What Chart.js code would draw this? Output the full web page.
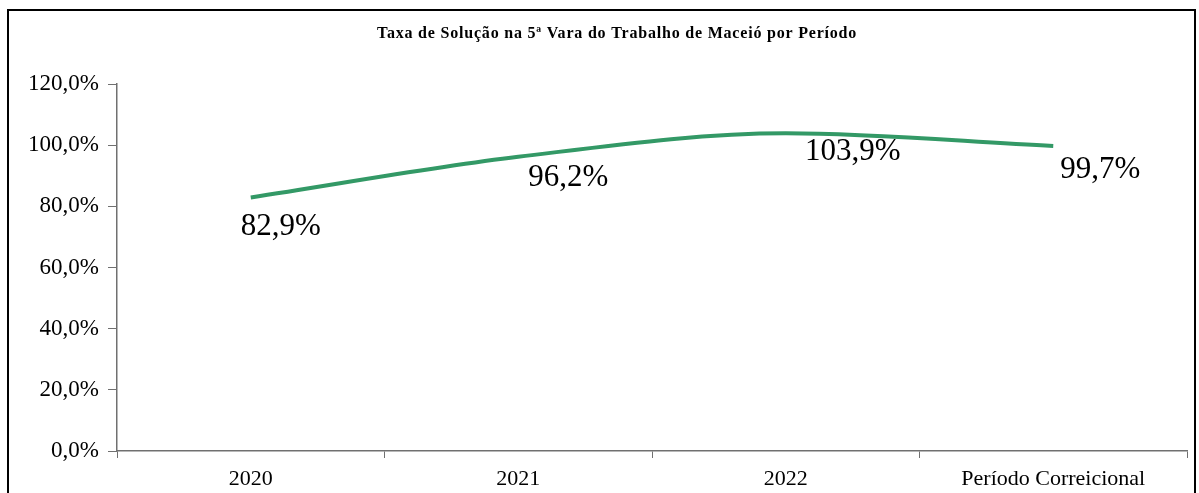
<!DOCTYPE html>
<html>
<head>
<meta charset="utf-8">
<script src="https://cdn.jsdelivr.net/npm/chart.js@4.4.0/dist/chart.umd.min.js"></script>
<style>
  html, body { margin: 0; padding: 0; background: #fff; }
  #wrap { width: 1199px; height: 493px; position: relative; }
</style>
</head>
<body>
<div id="wrap"><canvas id="taxaChart"></canvas></div>
<script>
const chartTitle = 'Taxa de Solução na 5ª Vara do Trabalho de Maceió por Período';
const periodos = ['2020', '2021', '2022', 'Período Correicional'];
const taxaSolucao = [82.9, 96.2, 103.9, 99.7];
const yTicks = [0, 20, 40, 60, 80, 100, 120];

const fmtPct = v => v.toFixed(1).replace('.', ',') + '%';
const serif = '"Liberation Serif", "Times New Roman", serif';

// labels sit below-right of each point, nudged like the original
const labelOffsets = [[30, 29], [50, 21], [67, 19], [47, 24]];

const frameAndLabels = {
  id: 'frameAndLabels',
  afterDraw(chart) {
    const c = chart.ctx;
    c.save();
    c.strokeStyle = '#000';
    c.lineWidth = 2;
    c.strokeRect(8, 10, 1187, 500);

    // title, slightly spaced out like the original
    c.fillStyle = '#000';
    c.font = 'bold 16px ' + serif;
    c.letterSpacing = '0.8px';
    c.textAlign = 'center';
    c.textBaseline = 'middle';
    c.fillText(chartTitle, 617, 34);
    c.letterSpacing = '0px';

    const meta = chart.getDatasetMeta(0);
    c.font = '31px ' + serif;
    meta.data.forEach((pt, i) => {
      const [dx, dy] = labelOffsets[i];
      c.fillText(fmtPct(taxaSolucao[i]), pt.x + dx, pt.y + dy);
    });
    c.restore();
  }
};

const ctx = document.getElementById('taxaChart').getContext('2d');
const taxaChart = new Chart(ctx, {
  type: 'line',
  data: {
    labels: periodos,
    datasets: [{
      label: 'Taxa de Solução',
      data: taxaSolucao,
      borderColor: '#339966',
      borderWidth: 4,
      pointRadius: 0,
      tension: 0.4,
      cubicInterpolationMode: 'monotone',
      fill: false
    }]
  },
  options: {
    responsive: true,
    maintainAspectRatio: false,
    animation: false,
    layout: { padding: { left: 0, right: 12, top: 84, bottom: 0 } },
    plugins: {
      legend: { display: false },
      tooltip: { enabled: false },
      title: { display: false }
    },
    scales: {
      x: {
        offset: true,
        grid: { offset: true, drawOnChartArea: false, color: '#707070', tickLength: 7 },
        border: { color: '#707070', width: 1.5 },
        ticks: { color: '#000', font: { family: serif, size: 22 }, padding: 8, maxRotation: 0 },
        afterFit(scale) { scale.height = 42; }
      },
      y: {
        min: 0,
        max: 120,
        afterBuildTicks(scale) { scale.ticks = yTicks.map(v => ({ value: v })); },
        grid: { drawOnChartArea: false, color: '#707070', tickLength: 9 },
        border: { color: '#707070', width: 1.5 },
        ticks: {
          color: '#000',
          font: { family: serif, size: 23 },
          padding: 9,
          callback: v => fmtPct(v)
        },
        afterFit(scale) { scale.width = 117; }
      }
    }
  },
  plugins: [frameAndLabels]
});
</script>
</body>
</html>
